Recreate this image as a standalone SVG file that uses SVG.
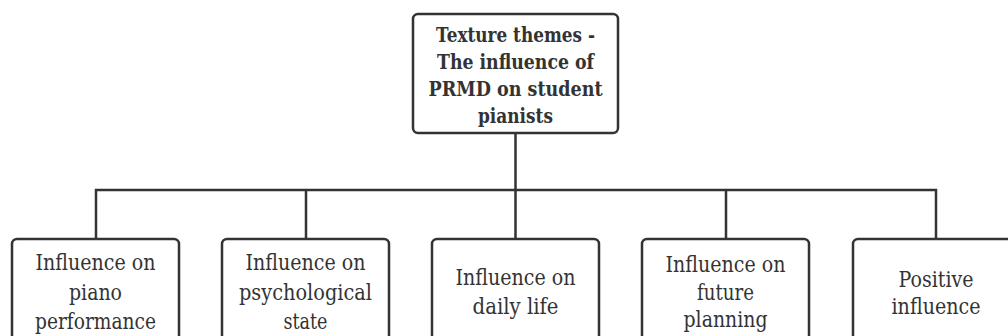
<svg xmlns="http://www.w3.org/2000/svg" width="1008" height="336" viewBox="0 0 1008 336">
<style>
.box{fill:#fff;stroke:#333;stroke-width:2.5}
.conn{fill:none;stroke:#333;stroke-width:2.5}
text{font-family:'DejaVu Serif','Liberation Serif',serif;fill:#333;text-anchor:middle}
.title{font-size:20.5px;font-weight:bold}
.lbl{font-size:21.5px}
</style>
<rect width="1008" height="336" fill="#fff"/>
<g id="connectors">
<path class="conn" d="M515.5 133V190M96 239V190H936V239M306 190V239M515.5 190V239M726 190V239"/>
</g>
<g id="root">
<rect class="box" x="413" y="14" width="205" height="119" rx="5"/>
<text class="title" x="515.5" y="42" textLength="159" lengthAdjust="spacingAndGlyphs">Texture themes -</text>
<text class="title" x="515.5" y="69" textLength="157" lengthAdjust="spacingAndGlyphs">The influence of</text>
<text class="title" x="515.5" y="96" textLength="174" lengthAdjust="spacingAndGlyphs">PRMD on student</text>
<text class="title" x="515.5" y="123" textLength="75" lengthAdjust="spacingAndGlyphs">pianists</text>
</g>
<g id="n1">
<rect class="box" x="12" y="239" width="167" height="120" rx="5"/>
<text class="lbl" x="95.5" y="270" textLength="120" lengthAdjust="spacingAndGlyphs">Influence on</text>
<text class="lbl" x="95.5" y="299.5" textLength="53" lengthAdjust="spacingAndGlyphs">piano</text>
<text class="lbl" x="95.5" y="329" textLength="121" lengthAdjust="spacingAndGlyphs">performance</text>
</g>
<g id="n2">
<rect class="box" x="222" y="239" width="167" height="120" rx="5"/>
<text class="lbl" x="305.5" y="270" textLength="120" lengthAdjust="spacingAndGlyphs">Influence on</text>
<text class="lbl" x="305.5" y="299.5" textLength="133" lengthAdjust="spacingAndGlyphs">psychological</text>
<text class="lbl" x="305.5" y="329" textLength="44" lengthAdjust="spacingAndGlyphs">state</text>
</g>
<g id="n3">
<rect class="box" x="432" y="239" width="167" height="120" rx="5"/>
<text class="lbl" x="515.5" y="285" textLength="120" lengthAdjust="spacingAndGlyphs">Influence on</text>
<text class="lbl" x="515.5" y="314" textLength="86" lengthAdjust="spacingAndGlyphs">daily life</text>
</g>
<g id="n4">
<rect class="box" x="642" y="239" width="167" height="120" rx="5"/>
<text class="lbl" x="725.5" y="272" textLength="120" lengthAdjust="spacingAndGlyphs">Influence on</text>
<text class="lbl" x="725.5" y="299.5" textLength="57" lengthAdjust="spacingAndGlyphs">future</text>
<text class="lbl" x="725.5" y="327" textLength="84" lengthAdjust="spacingAndGlyphs">planning</text>
</g>
<g id="n5">
<rect class="box" x="853" y="239" width="167" height="120" rx="5"/>
<text class="lbl" x="936" y="287" textLength="75" lengthAdjust="spacingAndGlyphs">Positive</text>
<text class="lbl" x="936" y="314" textLength="89" lengthAdjust="spacingAndGlyphs">influence</text>
</g>
</svg>
